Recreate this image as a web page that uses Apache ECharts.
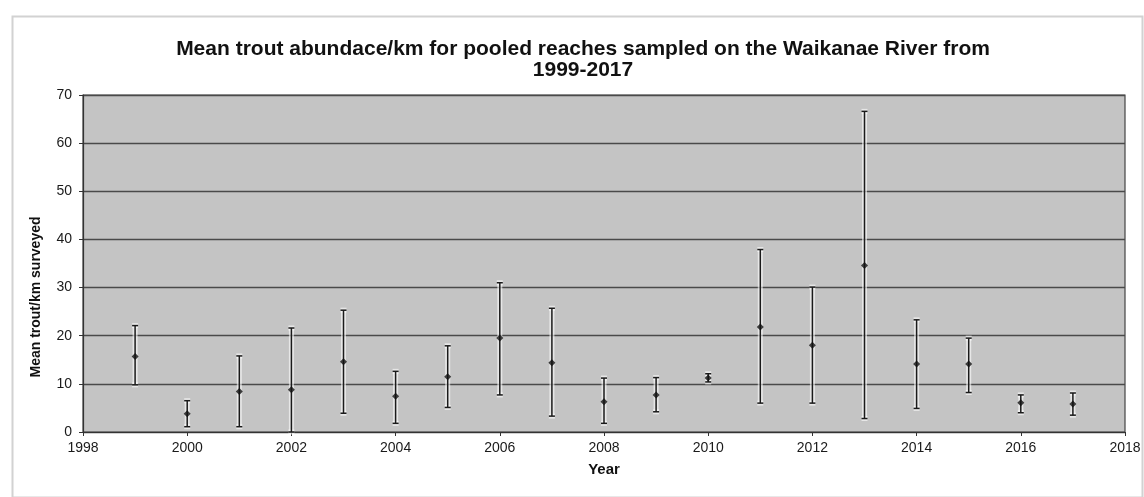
<!DOCTYPE html>
<html>
<head>
<meta charset="utf-8">
<script src="https://cdn.jsdelivr.net/npm/echarts@6/dist/echarts.min.js"></script>
<style>html,body{margin:0;padding:0;background:#fff;}#c{width:1144px;height:497px;}</style>
</head>
<body>
<div id="c"></div>
<script>
var years = [1999,2000,2001,2002,2003,2004,2005,2006,2007,2008,2009,2010,2011,2012,2013,2014,2015,2016,2017];
var means = [15.7,3.8,8.4,8.8,14.6,7.4,11.5,19.5,14.4,6.3,7.7,11.2,21.8,18.0,34.6,14.1,14.1,6.1,5.8];
var lows  = [9.8,1.1,1.1,0.0,3.9,1.8,5.1,7.7,3.3,1.8,4.2,10.4,6.0,6.0,2.8,4.9,8.2,4.0,3.5];
var highs = [22.1,6.5,15.8,21.6,25.3,12.6,17.9,31.0,25.7,11.2,11.3,12.1,37.9,30.1,66.6,23.3,19.5,7.7,8.1];
var yTicks = [0,10,20,30,40,50,60,70];
var xTicks = [1998,2000,2002,2004,2006,2008,2010,2012,2014,2016,2018];

var errData = years.map(function(y,i){return [y, lows[i], highs[i]];});
var meanData = years.map(function(y,i){return [y, means[i]];});
var FONT = 'Liberation Sans, Arial, sans-serif';

var chart = echarts.init(document.getElementById('c'));
chart.setOption({
  backgroundColor: '#fff',
  animation: false,
  graphic: [{
    type: 'rect', left: 10, top: 14, shape: {width: 1130, height: 481},
    style: {fill: 'none', stroke: '#d2d2d2', lineWidth: 2}, silent: true
  }, {
    type: 'text', x: 36, y: 297, rotation: Math.PI/2,
    style: {text: 'Mean trout/km surveyed', font: 'bold 14px ' + FONT, fill: '#111', textAlign: 'center', textVerticalAlign: 'middle'},
    silent: true
  }],
  title: {
    text: 'Mean trout abundace/km for pooled reaches sampled on the Waikanae River from\n1999-2017',
    left: 578, top: 34, textAlign: 'center',
    textStyle: {fontFamily: FONT, fontSize: 21, fontWeight: 'bold', color: '#111', lineHeight: 21, align: 'center'}
  },
  grid: {left: 83, right: 19, top: 95, bottom: 65, show: true, backgroundColor: '#c4c4c4', borderColor: '#444', borderWidth: 1.2},
  xAxis: {
    type: 'value', min: xTicks[0], max: xTicks[xTicks.length-1], interval: 2,
    name: 'Year', nameLocation: 'middle', nameGap: 30,
    nameTextStyle: {fontFamily: FONT, fontSize: 15, fontWeight: 'bold', color: '#111'},
    axisLine: {show: true, lineStyle: {color: '#333', width: 1.2}},
    axisTick: {show: true, length: 4, lineStyle: {color: '#333'}},
    axisLabel: {fontFamily: FONT, fontSize: 14, color: '#1a1a1a', margin: 9, formatter: function(v){return String(v);}},
    splitLine: {show: false}
  },
  yAxis: {
    type: 'value', min: yTicks[0], max: yTicks[yTicks.length-1], interval: 10,
    axisLine: {show: true, lineStyle: {color: '#333', width: 1.2}},
    axisTick: {show: true, length: 4, lineStyle: {color: '#333'}},
    axisLabel: {fontFamily: FONT, fontSize: 14, color: '#1a1a1a', margin: 11},
    splitLine: {show: true, lineStyle: {color: '#4a4a4a', width: 1.3}}
  },
  series: [{
    type: 'custom',
    data: errData,
    renderItem: function(params, api){
      var x = api.value(0);
      var lo = api.coord([x, api.value(1)]);
      var hi = api.coord([x, api.value(2)]);
      var hw = 3;
      var mk = function(stroke, w){
        return [
          {type:'line', shape:{x1:lo[0], y1:lo[1], x2:hi[0], y2:hi[1]}, style:{stroke:stroke, lineWidth:w}},
          {type:'line', shape:{x1:hi[0]-hw, y1:hi[1], x2:hi[0]+hw, y2:hi[1]}, style:{stroke:stroke, lineWidth:w}},
          {type:'line', shape:{x1:lo[0]-hw, y1:lo[1], x2:lo[0]+hw, y2:lo[1]}, style:{stroke:stroke, lineWidth:w}}
        ];
      };
      return {type:'group', children: mk('rgba(255,255,255,0.6)', 5).concat(mk('#1a1a1a', 1.5))};
    },
    z: 2
  }, {
    type: 'scatter',
    data: meanData,
    symbol: 'diamond',
    symbolSize: 7,
    itemStyle: {color: '#111'},
    z: 3
  }]
});
</script>
</body>
</html>
